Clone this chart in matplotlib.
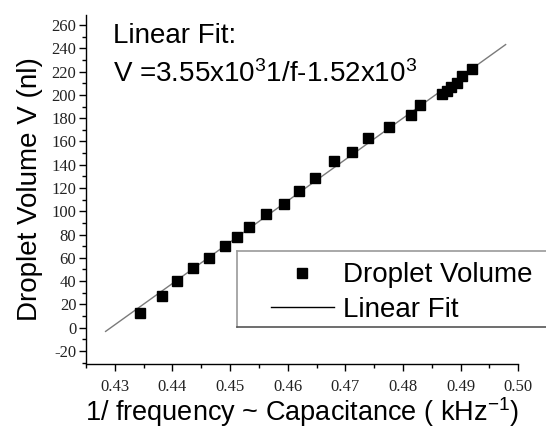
import matplotlib
matplotlib.use("Agg")
import matplotlib.pyplot as plt
from matplotlib.lines import Line2D
from matplotlib.ticker import MultipleLocator, FormatStrFormatter
import numpy as np

# ---- data ----
inv_freq = [0.4343, 0.4382, 0.4408, 0.4435, 0.4464, 0.4491, 0.4512, 0.4532,
            0.4562, 0.4593, 0.4620, 0.4647, 0.4680, 0.4712, 0.4739, 0.4775,
            0.4814, 0.4830, 0.4868, 0.4876, 0.4884, 0.4893, 0.4903, 0.4920]
volume = [12.4, 27.5, 40.4, 51.0, 60.1, 70.4, 77.7, 86.8,
          97.7, 106.3, 117.4, 128.4, 143.2, 151.2, 162.7, 172.2,
          182.7, 191.3, 200.5, 203.5, 207.0, 210.5, 216.5, 222.5]
fit_slope = 3550.0
fit_intercept = -1524.0
fit_x_range = [0.4284, 0.4978]

x_label = "1/ frequency ~ Capacitance ( kHz$^{-1}$)"
y_label = "Droplet Volume V (nl)"
legend_labels = ["Droplet Volume", "Linear Fit"]
title_line1 = "Linear Fit:"
title_line2 = "V =3.55x10$^3$1/f-1.52x10$^3$"

plt.rcParams["font.family"] = ["Liberation Sans", "DejaVu Sans"]
plt.rcParams["mathtext.fontset"] = "custom"
plt.rcParams["mathtext.rm"] = "Liberation Sans"
plt.rcParams["mathtext.it"] = "Liberation Sans"
plt.rcParams["mathtext.default"] = "regular"

W, H = 546, 429
fig = plt.figure(figsize=(W / 100, H / 100), dpi=100)

def fx(px):
    return px / W

def fy(py):
    return 1 - py / H

left, right, top, bottom = 86, 518.3, 15, 363.5
ax = fig.add_axes([fx(left), fy(bottom), (right - left) / W, (bottom - top) / H])

fx_arr = np.array(fit_x_range)
fit_line, = ax.plot(fx_arr, fit_slope * fx_arr + fit_intercept, color="#7a7a7a",
                    lw=1.0, zorder=2)
pts, = ax.plot(inv_freq, volume, ls="none", marker="s", ms=7.6, color="black",
               mec="black", zorder=3)

ax.set_xlim(0.425, 0.50)
ax.set_ylim(-30.75, 268.6)

ax.spines["top"].set_visible(False)
ax.spines["right"].set_visible(False)
for s in ("left", "bottom"):
    ax.spines[s].set_linewidth(1.0)

ax.xaxis.set_major_locator(MultipleLocator(0.01))
ax.xaxis.set_minor_locator(MultipleLocator(0.005))
ax.yaxis.set_major_locator(MultipleLocator(20))
ax.yaxis.set_minor_locator(MultipleLocator(10))
ax.xaxis.set_major_formatter(FormatStrFormatter("%.2f"))
ax.yaxis.set_major_formatter(FormatStrFormatter("%d"))
ax.tick_params(which="major", direction="out", length=5, width=1.0)
ax.tick_params(which="minor", direction="out", length=3, width=1.0)
ax.tick_params(axis="x", pad=6)
ax.tick_params(axis="y", pad=2)
for lab in ax.get_xticklabels() + ax.get_yticklabels():
    lab.set_fontfamily("Liberation Serif")
    lab.set_fontsize(12)
    lab.set_color("#222222")

ax.set_xlabel(x_label, fontsize=19.5, labelpad=0)
ax.set_ylabel(y_label, fontsize=20, labelpad=6)

fig.text(fx(113), fy(43), title_line1, fontsize=20, va="baseline", ha="left")
fig.text(fx(113), fy(82), title_line2, fontsize=20, va="baseline", ha="left")

# legend box (extends past the right edge of the figure)
bx0, bx1, by0, by1 = 236.7, 600, 251, 326.7
fig.add_artist(Line2D([fx(bx0), fx(bx1)], [fy(by0), fy(by0)], color="#9a9a9a", lw=1.2))
fig.add_artist(Line2D([fx(bx0), fx(bx0)], [fy(by0), fy(by1)], color="#9a9a9a", lw=1.2))
fig.add_artist(Line2D([fx(bx0), fx(bx1)], [fy(by1), fy(by1)], color="#555555", lw=1.2))

leg_line = Line2D([], [], color="black", lw=1.0)
leg = ax.legend([pts, leg_line], legend_labels, loc="upper left",
                bbox_to_anchor=(fx(270.7), fy(262.5)), bbox_transform=fig.transFigure,
                frameon=False, fontsize=20, borderpad=0, borderaxespad=0,
                handlelength=2.27, handletextpad=0.35, labelspacing=0.3,
                numpoints=1, markerscale=1.0)

fig.savefig("out.png", dpi=100)
